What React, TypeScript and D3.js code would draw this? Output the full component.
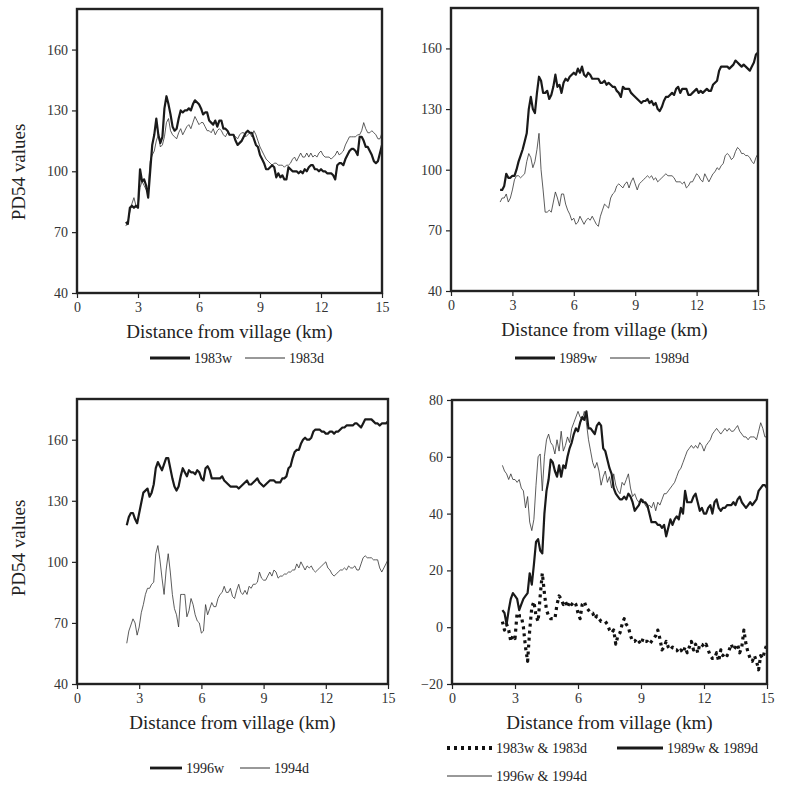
import React, { useEffect, useRef } from "react";
import * as d3 from "d3";

// distance grid of the transects (km), one reading every 100 m
const distanceKm = d3.range(24, 151).map((d) => d / 10);

const xTicks = [0, 3, 6, 9, 12, 15];
const pdTicks = [40, 70, 100, 130, 160];
const diffTicks = [-20, 0, 20, 40, 60, 80];

// PD54 values, 1983 wet / dry
const w1983 = [
  75, 74, 82, 83, 82, 83,
  82, 101, 95, 96, 93, 87, 100, 113, 118, 126,
  118, 114, 117, 131, 137, 133, 128, 122, 120, 121,
  126, 130, 129, 130, 130, 131, 130, 133, 135, 134,
  133, 131, 128, 129, 129, 125, 124, 123, 125, 122,
  125, 125, 121, 121, 120, 118, 118, 118, 115, 113,
  114, 115, 117, 119, 120, 119, 119, 116, 113, 112,
  108, 106, 104, 101, 101, 102, 103, 102, 97, 99,
  97, 98, 96, 96, 102, 101, 100, 100, 100, 99,
  100, 99, 101, 100, 102, 103, 103, 101, 101, 100,
  101, 100, 100, 99, 99, 99, 98, 96, 103, 104,
  104, 103, 106, 108, 110, 111, 111, 110, 108, 117,
  117, 115, 112, 112, 110, 108, 105, 104, 105, 109,
  113,
];
const d1983 = [
  73, 75, 80, 84, 87, 83,
  82, 92, 95, 93, 91, 92, 105, 108, 110, 115,
  118, 112, 113, 117, 124, 126, 120, 118, 117, 116,
  119, 121, 118, 120, 122, 123, 121, 124, 127, 125,
  123, 124, 124, 122, 120, 120, 119, 121, 118, 120,
  121, 120, 118, 117, 119, 118, 118, 118, 117, 116,
  118, 119, 119, 117, 118, 119, 117, 120, 118, 115,
  112, 110, 108, 106, 105, 104, 103, 104, 104, 103,
  103, 103, 102, 103, 103, 104, 106, 107, 105, 107,
  109, 107, 107, 109, 107, 109, 107, 108, 107, 109,
  110, 108, 107, 107, 107, 106, 107, 108, 110, 108,
  109, 110, 113, 115, 117, 117, 117, 117, 118, 118,
  120, 124, 121, 119, 119, 120, 119, 118, 116, 116,
  119,
];

// 1989 wet / dry
const w1989 = [
  90, 90, 92, 98, 96, 96,
  97, 97, 100, 104, 107, 110, 114, 118, 130, 136,
  130, 128, 138, 146, 144, 138, 138, 139, 135, 137,
  141, 147, 141, 142, 138, 143, 145, 144, 146, 147,
  148, 147, 150, 148, 151, 147, 146, 148, 147, 145,
  145, 145, 145, 143, 143, 144, 142, 143, 142, 141,
  141, 139, 138, 136, 141, 140, 140, 140, 138, 137,
  136, 135, 134, 133, 134, 134, 135, 133, 134, 132,
  133, 130, 129, 131, 134, 136, 136, 137, 138, 137,
  140, 141, 138, 140, 140, 140, 137, 137, 138, 139,
  140, 138, 139, 138, 139, 140, 139, 139, 142, 143,
  144, 149, 151, 151, 151, 151, 150, 151, 152, 154,
  153, 152, 151, 152, 151, 150, 149, 151, 153, 157,
  158,
];
const d1989 = [
  84, 86, 86, 88, 84, 86,
  90, 95, 97, 97, 96, 97, 98, 104, 108, 106,
  101, 104, 110, 118, 100, 90, 79, 79, 80, 79,
  84, 89, 86, 82, 88, 88, 83, 80, 78, 75,
  76, 73, 74, 77, 75, 73, 75, 76, 75, 77,
  75, 73, 72, 77, 80, 83, 82, 81, 86, 88,
  89, 92, 93, 92, 91, 93, 94, 91, 94, 96,
  93, 90, 93, 94, 95, 96, 97, 96, 97, 95,
  96, 94, 95, 96, 97, 98, 97, 97, 97, 96,
  94, 94, 94, 93, 94, 91, 92, 94, 94, 96,
  98, 97, 95, 94, 98, 96, 94, 96, 98, 99,
  101, 100, 102, 103, 107, 108, 107, 105, 106, 109,
  111, 110, 108, 108, 107, 107, 106, 104, 103, 106,
  108,
];

// 1996 wet / 1994 dry
const w1996 = [
  118, 122, 124, 124, 121, 119,
  124, 129, 134, 135, 136, 132, 134, 138, 146, 149,
  147, 145, 148, 151, 151, 146, 141, 137, 135, 137,
  142, 146, 144, 142, 145, 144, 144, 143, 145, 144,
  141, 140, 146, 147, 145, 141, 141, 141, 141, 141,
  142, 140, 139, 138, 137, 137, 137, 137, 136, 137,
  138, 139, 140, 138, 138, 139, 140, 141, 139, 138,
  137, 138, 139, 140, 140, 140, 139, 139, 139, 141,
  141, 142, 146, 147, 151, 154, 155, 155, 158, 160,
  161, 160, 160, 161, 164, 165, 165, 165, 164, 164,
  163, 163, 164, 164, 163, 164, 164, 165, 166, 166,
  167, 167, 167, 167, 168, 168, 167, 166, 168, 170,
  170, 170, 170, 169, 168, 168, 167, 168, 168, 168,
  169,
];
const d1994 = [
  60, 66, 69, 72, 70, 64,
  68, 75, 79, 84, 87, 87, 89, 90, 104, 108,
  101, 92, 84, 96, 104, 95, 84, 77, 74, 68,
  84, 84, 84, 73, 76, 82, 79, 74, 71, 70,
  65, 66, 79, 74, 77, 80, 78, 78, 82, 84,
  85, 88, 85, 85, 87, 83, 82, 86, 89, 85,
  84, 86, 84, 88, 87, 89, 89, 90, 95, 92,
  91, 91, 93, 95, 93, 96, 95, 92, 93, 93,
  94, 94, 95, 95, 96, 96, 99, 97, 100, 98,
  96, 98, 97, 98, 96, 95, 96, 97, 98, 99,
  100, 97, 96, 94, 93, 94, 95, 96, 96, 97,
  96, 98, 97, 97, 98, 96, 96, 99, 102, 103,
  102, 102, 102, 101, 101, 101, 97, 95, 97, 99,
  101,
];

// wet minus dry differences
const diff1983 = [
  2, -1, 1, -1, -5, -3,
  -4, 5, 4, 4, 0, -7, -12, -1, 7, 9,
  4, 2, 11, 19, 12, 6, 4, 3, 3, 3,
  8, 11, 10, 8, 9, 7, 9, 8, 9, 8,
  5, 3, 8, 9, 7, 6, 5, 5, 3, 4,
  3, 2, 2, 2, 1, -1, -2, -1, -6, -3,
  -2, 1, 3, 1, 0, -3, -5, -5, -4, -5,
  -6, -4, -5, -5, -6, -5, -4, -3, -1, -4,
  -8, -7, -5, -7, -8, -7, -8, -8, -9, -8,
  -9, -7, -9, -7, -5, -8, -6, -9, -6, -6,
  -7, -6, -8, -10, -11, -11, -9, -12, -8, -10,
  -9, -10, -8, -6, -8, -7, -6, -9, -7, -1,
  -6, -9, -11, -12, -10, -12, -15, -10, -11, -8,
  -6,
];
const diff1989 = [
  6, 5, 1, 6, 10, 12,
  11, 10, 6, 8, 10, 11, 12, 19, 15, 22,
  30, 31, 27, 26, 40, 48, 52, 59, 58, 55,
  53, 57, 53, 57, 56, 60, 63, 65, 68, 70,
  69, 72, 74, 73, 76, 70, 70, 69, 68, 71,
  72, 71, 63, 62, 59, 56, 54, 49, 47, 46,
  45, 45, 46, 45, 47, 46, 44, 41, 42, 43,
  45, 44, 44, 43, 40, 37, 37, 37, 36, 36,
  35, 36, 32, 35, 38, 36, 38, 39, 38, 42,
  40, 48, 44, 44, 44, 46, 47, 44, 41, 42,
  40, 40, 42, 43, 40, 44, 45, 42, 41, 42,
  42, 43, 43, 43, 44, 43, 45, 46, 44, 43,
  42, 43, 44, 43, 44, 45, 48, 49, 50, 50,
  49,
];
const diff1996 = [
  57, 55, 54, 52, 54, 52,
  52, 51, 52, 49, 48, 42, 46, 37, 34, 38,
  50, 60, 61, 48, 60, 66, 68, 65, 64, 61,
  66, 62, 69, 62, 64, 67, 65, 70, 72, 74,
  76, 74, 73, 76, 72, 66, 62, 58, 56, 58,
  55, 50, 53, 55, 51, 53, 49, 54, 50, 48,
  47, 51, 50, 52, 54, 49, 46, 47, 45, 44,
  45, 45, 43, 42, 43, 42, 44, 41, 44, 43,
  45, 47, 47, 48, 49, 50, 51, 53, 55, 56,
  58, 60, 62, 63, 64, 63, 64, 63, 65, 64,
  62, 64, 65, 66, 68, 69, 70, 69, 68, 69,
  70, 69, 70, 69, 69, 70, 71, 69, 68, 67,
  67, 66, 67, 67, 67, 66, 69, 72, 70, 67,
  67,
];

const lineStyles = {
  thick: { width: 2.2, dash: null, color: "#1a1a1a" },
  thin: { width: 0.8, dash: null, color: "#333" },
  dotted: { width: 3.2, dash: "3,4", color: "#111" },
};

const FONT = "Liberation Serif, Tinos, Times New Roman, DejaVu Serif, serif";

const panels = [
  {
    box: { x0: 77, x1: 382, y0: 9, y1: 293 },
    yDomain: [40, 180], yTicks: pdTicks, yTitle: 172,
    series: [{ values: d1983, style: "thin" }, { values: w1983, style: "thick" }],
    legend: [
      { style: "thick", label: "1983w", x: 150, y: 358, len: 40 },
      { style: "thin", label: "1983d", x: 245, y: 358, len: 40 },
    ],
  },
  {
    box: { x0: 451, x1: 758, y0: 8, y1: 291 },
    yDomain: [40, 180], yTicks: pdTicks, yTitle: null,
    series: [{ values: d1989, style: "thin" }, { values: w1989, style: "thick" }],
    legend: [
      { style: "thick", label: "1989w", x: 515, y: 358, len: 40 },
      { style: "thin", label: "1989d", x: 610, y: 358, len: 40 },
    ],
  },
  {
    box: { x0: 77, x1: 388, y0: 399, y1: 684 },
    yDomain: [40, 180], yTicks: pdTicks, yTitle: 548,
    series: [{ values: d1994, style: "thin" }, { values: w1996, style: "thick" }],
    legend: [
      { style: "thick", label: "1996w", x: 150, y: 768, len: 32 },
      { style: "thin", label: "1994d", x: 240, y: 768, len: 30 },
    ],
  },
  {
    box: { x0: 452, x1: 767, y0: 400, y1: 684 },
    yDomain: [-20, 80], yTicks: diffTicks, yTitle: null,
    series: [
      { values: diff1996, style: "thin" },
      { values: diff1989, style: "thick" },
      { values: diff1983, style: "dotted" },
    ],
    legend: [
      { style: "dotted", label: "1983w & 1983d", x: 447, y: 748, len: 45 },
      { style: "thick", label: "1989w & 1989d", x: 617, y: 748, len: 46 },
      { style: "thin", label: "1996w & 1994d", x: 447, y: 776, len: 45 },
    ],
  },
];

const App = () => {
  const svgRef = useRef<SVGSVGElement>(null);

  useEffect(() => {
    const svg = d3.select(svgRef.current);
    svg.selectAll("*").remove();

    panels.forEach((p) => {
      const { x0, x1, y0, y1 } = p.box;
      const x = d3.scaleLinear().domain([0, 15]).range([x0, x1]);
      const y = d3.scaleLinear().domain(p.yDomain).range([y1, y0]);
      const g = svg.append("g");

      // series
      p.series.forEach((s) => {
        const st = lineStyles[s.style];
        const line = d3
          .line<number>()
          .x((_, i) => x(distanceKm[i]))
          .y((d) => y(d));
        g.append("path")
          .datum(s.values)
          .attr("d", line)
          .attr("fill", "none")
          .attr("stroke", st.color)
          .attr("stroke-width", st.width)
          .attr("stroke-dasharray", st.dash)
          .attr("stroke-linejoin", "round");
      });

      // frame
      g.append("rect")
        .attr("x", x0)
        .attr("y", y0)
        .attr("width", x1 - x0)
        .attr("height", y1 - y0)
        .attr("fill", "none")
        .attr("stroke", "#222")
        .attr("stroke-width", 2.4);

      // x axis
      const xAxis = g.append("g").attr("transform", `translate(0,${y1})`)
        .call(d3.axisBottom(x).tickValues(xTicks).tickSize(5).tickPadding(4));
      xAxis.attr("font-family", FONT).attr("font-size", 14);
      xAxis.select(".domain").remove();
      xAxis.selectAll("line").attr("stroke", "#222").attr("stroke-width", 1.2);
      xAxis.selectAll("text").style("font-family", FONT).attr("fill", "#333");

      // y axis
      const yAxis = g.append("g").attr("transform", `translate(${x0},0)`)
        .call(d3.axisLeft(y).tickValues(p.yTicks).tickSize(5).tickPadding(4));
      yAxis.attr("font-family", FONT).attr("font-size", 14);
      yAxis.select(".domain").remove();
      yAxis.selectAll("line").attr("stroke", "#222").attr("stroke-width", 1.2);
      yAxis.selectAll("text").style("font-family", FONT).attr("fill", "#333");

      // titles
      g.append("text")
        .attr("x", (x0 + x1) / 2)
        .attr("y", y1 + 45)
        .attr("text-anchor", "middle")
        .style("font-family", FONT)
        .attr("font-size", 19)
        .attr("fill", "#222")
        .text("Distance from village (km)");

      if (p.yTitle !== null) {
        g.append("text")
          .attr("transform", `translate(25,${p.yTitle}) rotate(-90)`)
          .attr("text-anchor", "middle")
          .style("font-family", FONT)
          .attr("font-size", 19)
          .attr("fill", "#222")
          .text("PD54 values");
      }

      // legend
      p.legend.forEach((l) => {
        const st = lineStyles[l.style];
        g.append("line")
          .attr("x1", l.x).attr("x2", l.x + l.len)
          .attr("y1", l.y).attr("y2", l.y)
          .attr("stroke", st.color)
          .attr("stroke-width", l.style === "thin" ? 1 : st.width + 0.6)
          .attr("stroke-dasharray", st.dash);
        g.append("text")
          .attr("x", l.x + l.len + 4)
          .attr("y", l.y + 5)
          .style("font-family", FONT)
          .attr("font-size", 14)
          .attr("fill", "#222")
          .text(l.label);
      });
    });
  }, []);

  return (
    <svg
      ref={svgRef}
      width={785}
      height={785}
      style={{ position: "absolute", left: 0, top: 0, background: "#fff" }}
    />
  );
};

export default App;
